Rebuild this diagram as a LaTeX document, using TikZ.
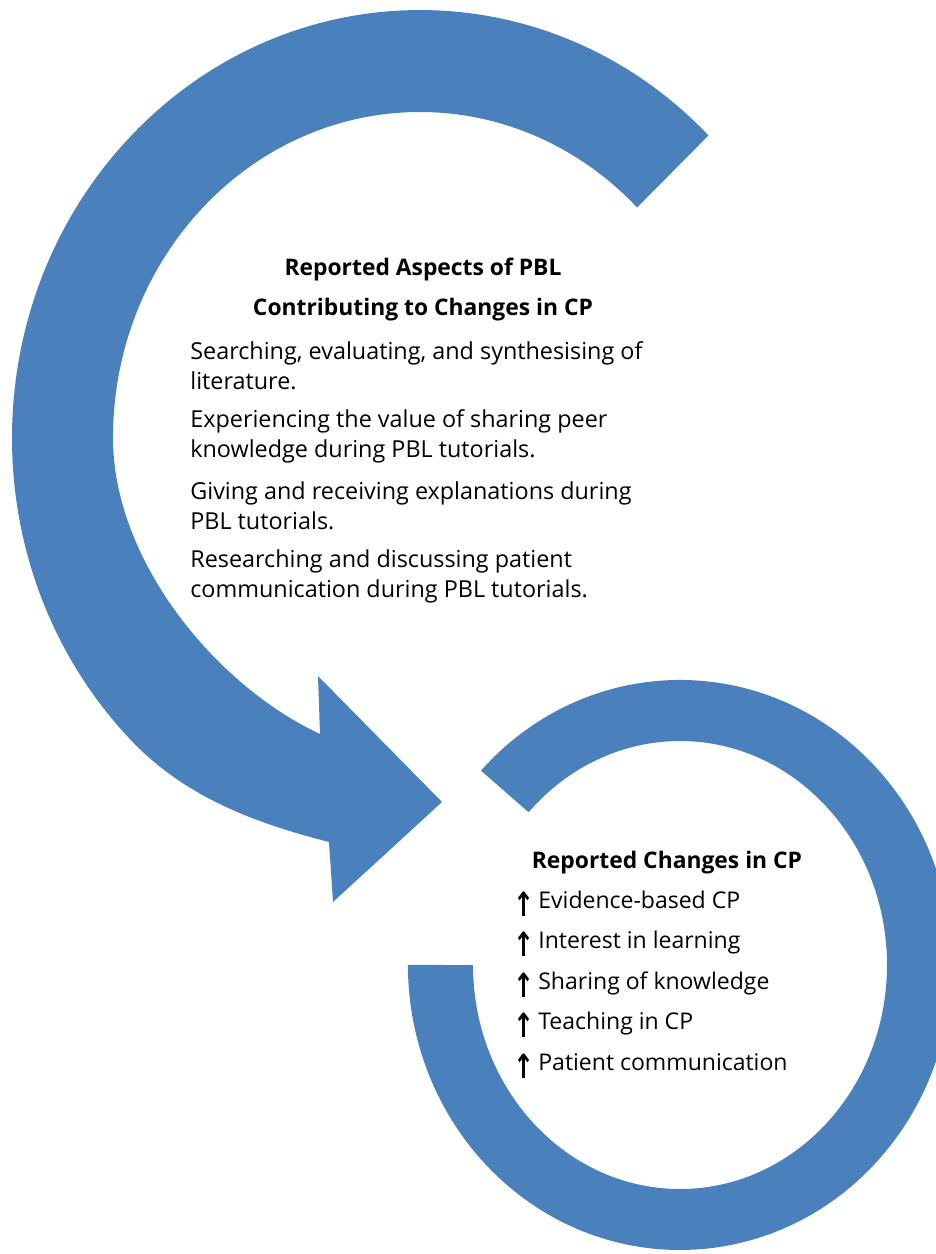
\documentclass[tikz,border=0pt]{standalone}
\usepackage{fontspec}
\setmainfont{Open Sans}
\newfontfamily\arrowfont{DejaVu Sans}
\definecolor{ringblue}{RGB}{74,129,189}
\newcommand{\uparr}{\scalebox{0.75}[1]{↑}}

\begin{document}
\begin{tikzpicture}[x=0.02cm,y=0.02cm]

	\tikzstyle band=[fill=ringblue];
	\tikzstyle heading=[font=\bfseries\fontsize{13}{17}\selectfont, inner sep=0pt];
	\tikzstyle item=[font=\fontsize{13.3}{17}\selectfont, align=left, anchor=west, inner sep=0pt];
	\tikzstyle row=[font=\fontsize{13.1}{17}\selectfont, anchor=mid west, inner sep=0pt];
	\tikzstyle up=[font=\arrowfont\bfseries\fontsize{19}{20}\selectfont, anchor=base, inner sep=0pt];

	\useasboundingbox (0,0) rectangle (936,-1254);
	\clip (0,0) rectangle (936,-1254);

	% big ring, ending in the arrow head
	\fill[band] (708.5,-135.4) arc[start angle=45, end angle=225, x radius=408, y radius=428]
		.. controls (186.5,-798.6) and (259,-824) .. (329,-842) -- (333,-902) -- (442,-802) -- (318,-676) -- (320,-734)
		.. controls (215,-685) and (113,-560) .. (113,-438)
		arc[start angle=180, end angle=45, x radius=307, y radius=326] -- cycle;

	% small ring
	\fill[band] (481,-770.6) arc[start angle=137, end angle=-180, x radius=272, y radius=285]
		-- (473,-965) arc[start angle=-180, end angle=137, x radius=207, y radius=224] -- cycle;

	% aspects of PBL
	\node[heading] (aspects) at (423,-270) {Reported Aspects of PBL};
	\node[heading] (contrib) at (423,-310) {Contributing to Changes in CP};
	\node[item] (search) at (190,-366) {Searching, evaluating, and synthesising of\\literature.};
	\node[item] (peer) at (190,-436) {Experiencing the value of sharing peer\\knowledge during PBL tutorials.};
	\node[item] (explain) at (190,-506) {Giving and receiving explanations during\\PBL tutorials.};
	\node[item] (discuss) at (190,-576) {Researching and discussing patient\\communication during PBL tutorials.};

	% changes in CP
	\node[heading] (changes) at (667,-863) {Reported Changes in CP};
	\node[up] (up1) at (524,-916) {\uparr};
	\node[row] (evidence) at (538,-904) {Evidence-based CP};
	\node[up] (up2) at (524,-956) {\uparr};
	\node[row] (interest) at (538,-944) {Interest in learning};
	\node[up] (up3) at (524,-997) {\uparr};
	\node[row] (sharing) at (538,-985) {Sharing of knowledge};
	\node[up] (up4) at (524,-1037) {\uparr};
	\node[row] (teaching) at (538,-1025) {Teaching in CP};
	\node[up] (up5) at (524,-1078) {\uparr};
	\node[row] (communication) at (538,-1066) {Patient communication};

\end{tikzpicture}
\end{document}
